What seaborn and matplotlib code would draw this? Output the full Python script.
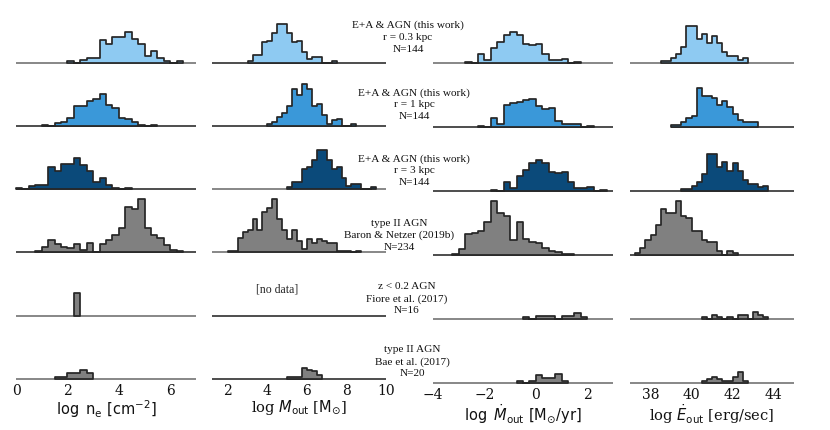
import numpy as np
import pandas as pd
import seaborn as sns
from matplotlib import pyplot as plt

sns.set_theme(style="white")
plt.rcParams["font.family"] = ["DejaVu Serif"]
plt.rcParams["mathtext.fontset"] = "dejavusans"

# every histogram uses bins of 0.25 dex: first bin edge + counts per bin
BW = 0.25

# log n_e
ne_03_start, ne_03 = 2.0, [1, 0, 2, 3, 3, 16, 13, 18, 18, 22, 17, 13, 5, 8, 3, 1, 0, 1]
ne_1_start, ne_1 = 1.0, [1, 0, 2, 3, 6, 14, 14, 18, 19, 23, 15, 13, 6, 5, 3, 1, 0, 1]
ne_3_start, ne_3 = 0.0, [1, 0, 2, 3, 3, 16, 13, 18, 18, 22, 17, 13, 5, 8, 3, 1, 0, 1]
ne_baron_start, ne_baron = 0.75, [1, 4, 9, 6, 4, 3, 6, 2, 7, 0, 6, 9, 12, 17, 32,
                                  31, 38, 17, 12, 10, 5, 2, 1]
ne_fiore_start, ne_fiore = 2.25, [16]
ne_bae_start, ne_bae = 1.5, [1, 1, 4, 4, 6, 4]

# log M_out
m_03_start, m_03 = 3.0, [1, 4, 4, 11, 12, 16, 21, 21, 16, 11, 12, 6, 2, 3, 3, 0, 0, 1]
m_1_start, m_1 = 4.0, [1, 2, 5, 7, 11, 20, 17, 23, 20, 11, 12, 6, 1, 3, 4, 0, 0, 1]
m_3_start, m_3 = 5.0, [1, 4, 4, 11, 12, 16, 21, 21, 16, 11, 12, 6, 2, 3, 3, 0, 0, 1]
m_baron_start, m_baron = 2.0, [1, 1, 8, 11, 12, 18, 12, 22, 24, 29, 18, 12, 7, 12, 6,
                               2, 7, 5, 7, 6, 5, 5, 1, 1, 1, 0, 1]
m_fiore_start, m_fiore = None, []
m_bae_start, m_bae = 5.0, [1, 1, 1, 6, 5, 4, 2]

# log Mdot_out
md_03_start, md_03 = -2.75, [1, 0, 6, 2, 10, 14, 19, 21, 19, 13, 12, 13, 6, 2, 2, 3, 0, 1]
md_1_start, md_1 = -2.25, [1, 0, 6, 2, 15, 16, 17, 18, 19, 14, 12, 13, 4, 2, 2, 2, 0, 1]
md_3_start, md_3 = -1.75, [1, 0, 6, 2, 10, 14, 19, 21, 19, 13, 12, 13, 6, 2, 2, 3, 0, 1]
md_baron_start, md_baron = -3.25, [1, 4, 14, 15, 16, 22, 36, 28, 26, 10, 22, 11, 9, 8,
                                   5, 3, 2, 1, 1]
md_fiore_start, md_fiore = -0.5, [1, 0, 2, 2, 2, 0, 2, 2, 4, 1]
md_bae_start, md_bae = -0.75, [1, 0, 1, 5, 3, 3, 6, 1]

# log Edot_out
e_03_start, e_03 = 38.5, [1, 1, 3, 5, 9, 20, 20, 13, 16, 11, 15, 11, 6, 4, 4, 2, 3]
e_1_start, e_1 = 39.0, [1, 1, 3, 5, 6, 21, 17, 17, 16, 12, 14, 11, 7, 4, 3, 3, 3]
e_3_start, e_3 = 39.5, [1, 1, 3, 5, 9, 20, 20, 13, 16, 11, 15, 11, 6, 4, 4, 2, 3]
e_baron_start, e_baron = 37.25, [1, 4, 8, 11, 16, 25, 23, 23, 29, 21, 20, 13, 13, 8, 7,
                                 7, 2, 0, 2, 1]
e_fiore_start, e_fiore = 40.5, [1, 0, 2, 1, 0, 1, 0, 2, 2, 0, 4, 2, 1]
e_bae_start, e_bae = 40.5, [1, 2, 3, 2, 1, 1, 3, 6, 1]

row_labels = [
    "E+A & AGN (this work)\nr = 0.3 kpc\nN=144",
    "E+A & AGN (this work)\nr = 1 kpc\nN=144",
    "E+A & AGN (this work)\nr = 3 kpc\nN=144",
    "type II AGN\nBaron & Netzer (2019b)\nN=234",
    "z < 0.2 AGN\nFiore et al. (2017)\nN=16",
    "type II AGN\nBae et al. (2017)\nN=20",
]
x_labels = [
    r"$\log\ {\rm n_e}\ [{\rm cm^{-2}}]$",
    r"log $M_{\rm out}$ [${\rm M_{\odot}}$]",
    r"$\log\ \dot{M}_{\rm out}\ [{\rm M_{\odot}/yr}]$",
    r"log $\dot{E}_{\rm out}$ [erg/sec]",
]
x_ticks = [[0, 2, 4, 6], [2, 4, 6, 8, 10], [-4, -2, 0, 2], [38, 40, 42, 44]]
x_limits = [(0, 7), (1.2, 10), (-4, 3), (37, 45)]

columns = [
    [(ne_03_start, ne_03), (ne_1_start, ne_1), (ne_3_start, ne_3),
     (ne_baron_start, ne_baron), (ne_fiore_start, ne_fiore), (ne_bae_start, ne_bae)],
    [(m_03_start, m_03), (m_1_start, m_1), (m_3_start, m_3),
     (m_baron_start, m_baron), (m_fiore_start, m_fiore), (m_bae_start, m_bae)],
    [(md_03_start, md_03), (md_1_start, md_1), (md_3_start, md_3),
     (md_baron_start, md_baron), (md_fiore_start, md_fiore), (md_bae_start, md_bae)],
    [(e_03_start, e_03), (e_1_start, e_1), (e_3_start, e_3),
     (e_baron_start, e_baron), (e_fiore_start, e_fiore), (e_bae_start, e_bae)],
]

# layout (pixels of the 830x430 canvas)
fill_colors = ["#8ecaf2", "#3a98d9", "#0b4a7a", "#808080", "#808080", "#808080"]
col_x = [(16, 196), (212, 386), (433, 613), (630, 794)]
base_left = [62.7, 126.0, 189.2, 252.4, 315.6, 378.8]
base_right = [63.3, 127.2, 191.1, 255.0, 318.9, 382.8]
tone = [["g", "k", "g", "g"], ["k", "k", "k", "k"], ["k", "g", "k", "k"],
        ["k", "g", "k", "k"], ["g", "k", "g", "g"], ["g", "k", "g", "g"]]
text_xy = [(408, 37.3), (414, 104.4), (414, 170.6), (399, 235.2), (407, 298.9), (412, 361.7)]
AX_H = 56.2
W, H = 830, 430

fig = plt.figure(figsize=(8.3, 4.3), dpi=100)

for c, panels in enumerate(columns):
    x0, x1 = col_x[c]
    ymax = max(max(cnt) for _, cnt in panels if cnt) * 1.05
    for r, (start, counts) in enumerate(panels):
        base = base_left[r] if c < 2 else base_right[r]
        ax = fig.add_axes([x0 / W, (H - base) / H, (x1 - x0) / W, AX_H / H])

        line_start = x_limits[c][0]
        if r == 1 and c == 3:
            line_start = start
        if tone[r][c] == "g":
            ax.hlines(0, line_start, x_limits[c][1], color="#878787", lw=1.4,
                      zorder=1, clip_on=False)
        else:
            ax.hlines(0, line_start, x_limits[c][1], color="#1c1c1c", lw=1.1,
                      zorder=1, clip_on=False)

        if counts:
            n = len(counts)
            centres = start + BW * (np.arange(n) + 0.5)
            df = pd.DataFrame({"value": centres, "count": counts})
            sns.histplot(data=df, x="value", weights="count", binwidth=BW,
                         binrange=(start, start + BW * n), element="step",
                         fill=True, color=fill_colors[r], alpha=1,
                         edgecolor="#262626", linewidth=1.25, ax=ax, zorder=2)
            for art in ax.collections[1:]:
                art.set_clip_on(False)
        else:
            ax.text(4.5, 0.46, "[no data]", transform=ax.get_xaxis_transform(),
                    ha="center", va="center", family="Liberation Serif", fontsize=8.5)

        ax.set_xlim(*x_limits[c])
        ax.set_ylim(0, ymax)
        for s in ax.spines.values():
            s.set_visible(False)
        ax.set_ylabel("")
        ax.set_yticks([])
        if r == len(panels) - 1:
            ax.set_xticks(x_ticks[c])
            ax.tick_params(axis="x", length=0, pad=4, labelsize=10, colors="#111111")
            ax.set_xlabel(x_labels[c], fontsize=10.5, labelpad=0, color="#111111")
        else:
            ax.set_xticks([])
            ax.set_xlabel("")

for txt, (tx, ty) in zip(row_labels, text_xy):
    fig.text(tx / W, (H - ty) / H, txt, ha="center", va="center", multialignment="center",
             family="Liberation Serif", fontsize=8.1, linespacing=1.38, color="#111111")

fig.savefig("out.png", dpi=100)
